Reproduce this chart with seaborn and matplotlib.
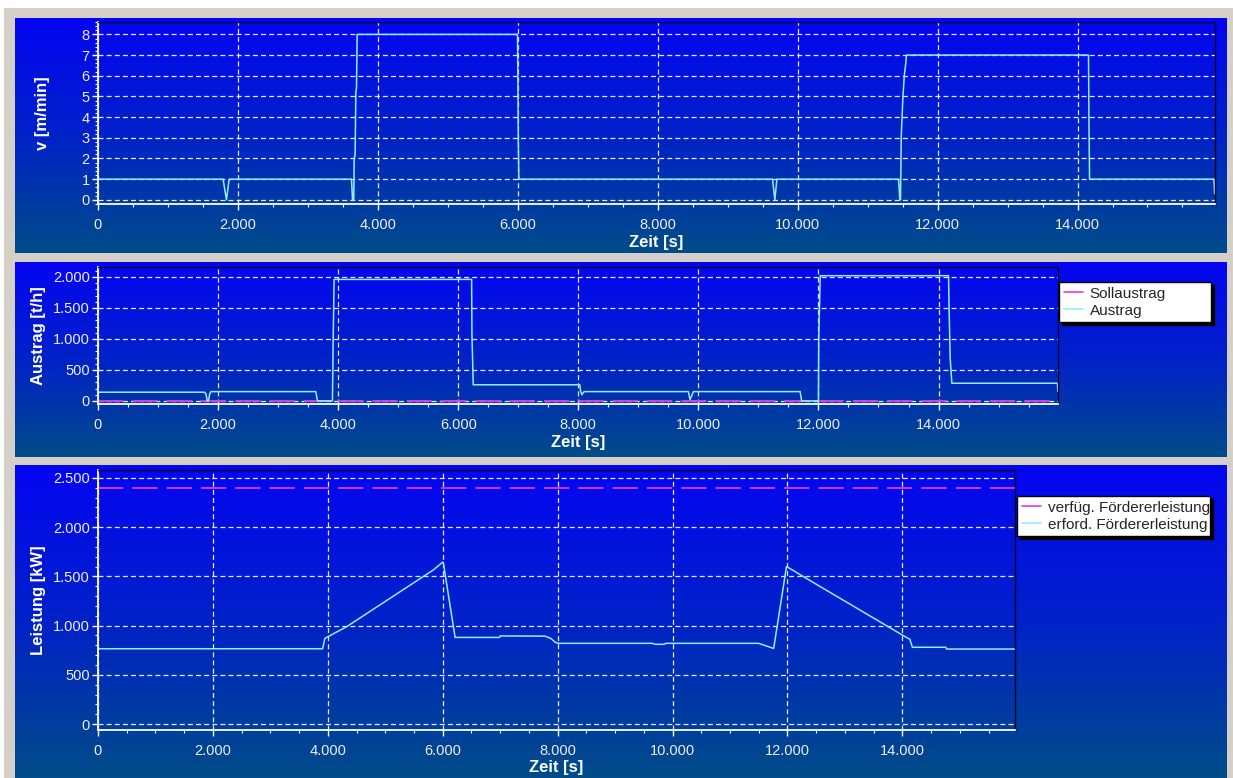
import matplotlib
matplotlib.use("Agg")
import matplotlib.pyplot as plt
from matplotlib.colors import LinearSegmentedColormap
from matplotlib.patches import Rectangle
from matplotlib.ticker import FuncFormatter, MultipleLocator
import numpy as np
import seaborn as sns

# --- values ---
# panel 1: Bandgeschwindigkeit
v_zeit = [0, 1788, 1836, 1874, 3623, 3638, 3655, 3662, 3675, 3685, 3695, 3704,
          5995, 6000, 6008, 6015, 9641, 9674, 9703, 11442, 11460, 11470, 11481,
          11505, 11524, 11545, 11555, 14157, 14163, 14172, 15950, 15960]
v_wert = [1, 1, 0, 1, 1, 0, 0, 2, 2.2, 5.2, 5.4, 8,
          8, 6.4, 2.7, 1, 1, 0, 1, 1, 0, 0, 3.1,
          5, 6, 6.6, 7, 7, 4, 1, 1, 0.3]

# panel 2: Austrag
austrag_zeit = [0, 1775, 1800, 1820, 1840, 1860, 1880, 3628, 3655, 3905, 3917, 3933,
                6223, 6228, 6250, 8025, 8040, 8060, 8080, 8100, 9833, 9861, 9917,
                11695, 11720, 12000, 12005, 12030, 14167, 14175, 14194, 14222,
                15980, 15988]
austrag_wert = [140, 140, 110, 0, 0, 110, 150, 150, 0, 0, 980, 1960,
                1960, 1100, 260, 260, 150, 100, 130, 150, 150, 20, 150,
                150, 0, 0, 1000, 2020, 2020, 1530, 690, 285,
                285, 150]
soll_zeit = [0, 15990]
soll_wert = [0, 0]

# panel 3: Leistung
erford_zeit = [0, 3909, 3949, 4330, 5836, 6000, 6010, 6215, 6986, 7000, 7780, 7880,
               7960, 8010, 9650, 9700, 9850, 9880, 11498, 11760, 11983, 12573,
               14000, 14130, 14174, 14755, 14770, 15960]
erford_wert = [765, 765, 871, 990, 1565, 1645, 1640, 880, 880, 895, 893, 870,
               830, 820, 820, 810, 810, 820, 820, 768, 1600, 1395,
               904, 861, 780, 780, 762, 762]
verfueg_zeit = [0, 15960]
verfueg_wert = [2395, 2395]

W, H = 1233, 778
CYAN = "#8ef0ff"
MAGENTA = "#e03ce6"

sns.set_style("ticks")
plt.rcParams["font.family"] = ["Liberation Sans", "DejaVu Sans"]

fig = plt.figure(figsize=(W / 100, H / 100), dpi=100, facecolor="#d4d0c8")
# white strip of the window edge
fig.patches.append(Rectangle((0, 1 - 8 / H), 1, 8 / H, transform=fig.transFigure,
                             facecolor="white", edgecolor="none", zorder=-10))
fig.patches.append(Rectangle((0, 0), 4 / W, 1, transform=fig.transFigure,
                             facecolor="white", edgecolor="none", zorder=-10))

grad = LinearSegmentedColormap.from_list("bg", ["#0505f2", "#0022c8", "#004c88"])


def px_rect(x0, y0, x1, y1):
    return [x0 / W, 1 - y1 / H, (x1 - x0) / W, (y1 - y0) / H]


def panel_background(x0, y0, x1, y1):
    bg = fig.add_axes(px_rect(x0, y0, x1, y1), zorder=-5)
    bg.imshow(np.linspace(0, 1, 256)[:, None], aspect="auto", cmap=grad,
              extent=[0, 1, 0, 1])
    bg.set_axis_off()


def de_fmt(x, pos):
    return f"{x:,.0f}".replace(",", ".")


def style_axes(ax, xlim, ylim, ymajor, yminor, ylabel, ylab_x, xlab_y):
    ax.set_zorder(1)
    ax.patch.set_alpha(0)
    ax.set_xlim(*xlim)
    ax.set_ylim(*ylim)
    ax.xaxis.set_major_locator(MultipleLocator(2000))
    ax.xaxis.set_minor_locator(MultipleLocator(500))
    ax.yaxis.set_major_locator(MultipleLocator(ymajor))
    ax.yaxis.set_minor_locator(MultipleLocator(yminor))
    ax.xaxis.set_major_formatter(FuncFormatter(de_fmt))
    ax.yaxis.set_major_formatter(FuncFormatter(de_fmt))
    ax.tick_params(which="major", colors="white", labelcolor="#eeeeee",
                   labelsize=10.5, length=4, width=1)
    ax.tick_params(axis="x", which="major", pad=6)
    ax.tick_params(axis="y", which="major", pad=2)
    ax.tick_params(which="minor", colors="white", length=2.5, width=0.8)
    ax.grid(True, which="major", color="white", linewidth=0.9,
            linestyle=(0, (4, 2.5)), alpha=0.9)
    for side in ("left", "bottom"):
        ax.spines[side].set_color("white")
        ax.spines[side].set_linewidth(1.3)
    for side in ("top", "right"):
        ax.spines[side].set_visible(True)
        ax.spines[side].set_color("#00002a")
        ax.spines[side].set_linewidth(1)
    ax.set_xlabel("Zeit [s]", color="white", fontweight="bold", fontsize=12)
    ax.xaxis.set_label_coords(0.5, xlab_y)
    ax.xaxis.label.set_va("top")
    ax.set_ylabel(ylabel, color="white", fontweight="bold", fontsize=12)
    ax.yaxis.set_label_coords(ylab_x, 0.5)


def add_legend(ax, x0, y0, x1, y1):
    leg = ax.legend(loc="upper left",
                    bbox_to_anchor=(x0 / W, 1 - y1 / H, (x1 - x0) / W, (y1 - y0) / H),
                    bbox_transform=fig.transFigure, mode="expand", borderaxespad=0,
                    frameon=True, fancybox=False, framealpha=1, facecolor="white",
                    edgecolor="black", fontsize=11, handlelength=1.3,
                    handletextpad=0.4, borderpad=0.3, labelspacing=0.2,
                    shadow={"color": "black", "alpha": 1})
    leg.get_frame().set_linewidth(1)
    for line in leg.get_lines():
        line.set_linestyle("-")
        line.set_linewidth(1.2)
    return leg


# ---- panel 1 ----
panel_background(15, 18, 1227, 253)
ax1 = fig.add_axes(px_rect(98, 22, 1215, 204))
sns.lineplot(x=v_zeit, y=v_wert, ax=ax1, color=CYAN, linewidth=1.1,
             estimator=None, sort=False, legend=False)
style_axes(ax1, (0, 15965), (-0.2, 8.6), 1, 0.2, "v [m/min]", -0.043, -0.17)

# ---- panel 2 ----
panel_background(15, 262, 1227, 457)
ax2 = fig.add_axes(px_rect(98, 267, 1058, 404))
sns.lineplot(x=soll_zeit, y=soll_wert, ax=ax2, color=MAGENTA, linewidth=1.3,
             estimator=None, sort=False, label="Sollaustrag",
             linestyle=(0, (14, 5)))
sns.lineplot(x=austrag_zeit, y=austrag_wert, ax=ax2, color=CYAN, linewidth=1.1,
             estimator=None, sort=False, label="Austrag")
style_axes(ax2, (0, 15990), (-50, 2160), 500, 100, "Austrag [t/h]", -0.054, -0.226)
add_legend(ax2, 1059, 282, 1211, 323)

# ---- panel 3 ----
panel_background(15, 465, 1227, 778)
ax3 = fig.add_axes(px_rect(98, 470, 1015, 730))
sns.lineplot(x=verfueg_zeit, y=verfueg_wert, ax=ax3, color=MAGENTA, linewidth=1.3,
             estimator=None, sort=False, label="verfüg. Fördererleistung",
             linestyle=(0, (14, 5)))
sns.lineplot(x=erford_zeit, y=erford_wert, ax=ax3, color=CYAN, linewidth=1.1,
             estimator=None, sort=False, label="erford. Fördererleistung")
style_axes(ax3, (0, 15960), (-60, 2580), 500, 100, "Leistung [kW]", -0.057, -0.115)
add_legend(ax3, 1017, 496, 1210, 537)

fig.savefig("out.png", dpi=100, facecolor=fig.get_facecolor())
